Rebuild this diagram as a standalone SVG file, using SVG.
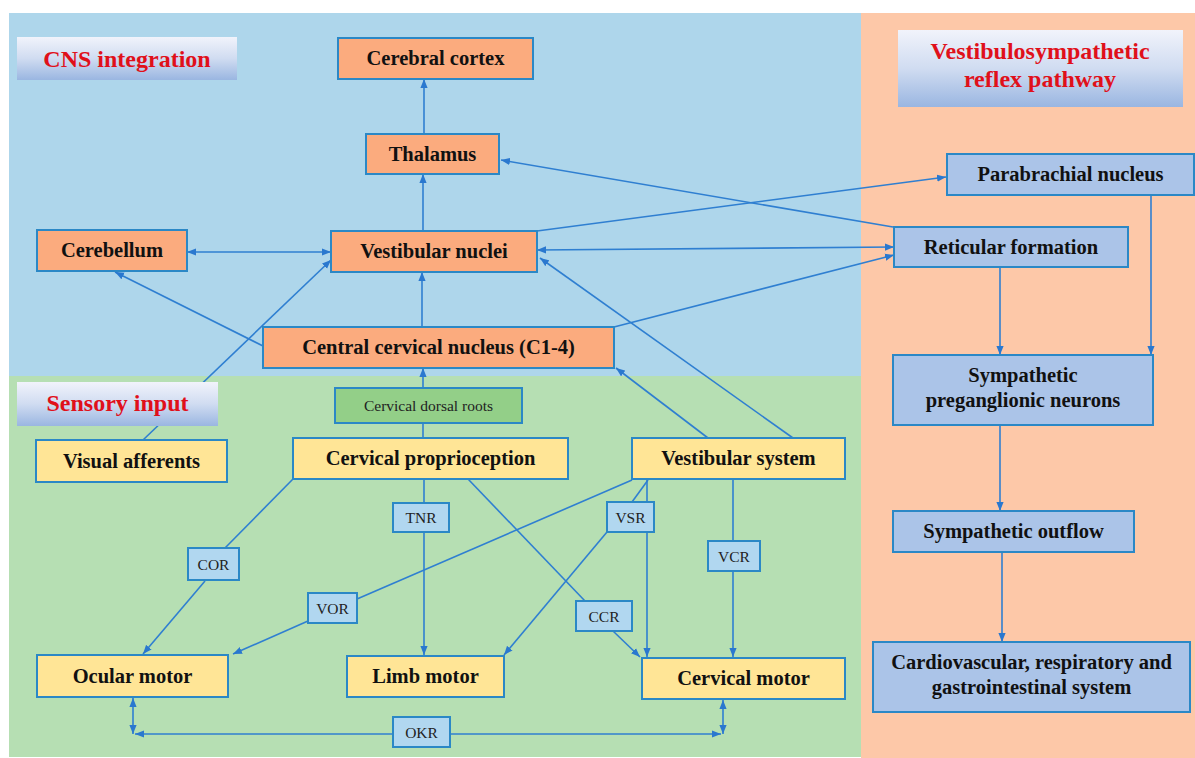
<svg xmlns="http://www.w3.org/2000/svg" width="1195" height="758" viewBox="0 0 1195 758">
<defs>
<linearGradient id="lblGrad" x1="0" y1="0" x2="0" y2="1">
<stop offset="0" stop-color="#f1f3fb"/>
<stop offset="0.5" stop-color="#d0dcf1"/>
<stop offset="1" stop-color="#9ab6e1"/>
</linearGradient>
<marker id="ah" viewBox="0 0 10 8" refX="10" refY="4" markerWidth="9" markerHeight="8" markerUnits="userSpaceOnUse" orient="auto-start-reverse">
<path d="M0,0 L10,4 L0,8 z" fill="#2a78cf"/>
</marker>
<style>
.conn line, .conn path { stroke:#2f7fd1; stroke-width:1.6; fill:none; }
.arr { marker-end:url(#ah); }
.both { marker-start:url(#ah); marker-end:url(#ah); }
.nO { fill:#fbab7e; stroke:#2b88c6; stroke-width:2; }
.nY { fill:#ffe596; stroke:#2b88c6; stroke-width:2; }
.nB { fill:#abc4e8; stroke:#2b88c6; stroke-width:2; }
.nS { fill:#b1d7f0; stroke:#2b88c6; stroke-width:2; }
.nG { fill:#93cf88; stroke:#2b88c6; stroke-width:2; }
.t { font-family:"Liberation Serif","Times New Roman",serif; font-weight:bold; font-size:20.5px; fill:#111; text-anchor:middle; }
.ts { font-family:"Liberation Serif","Times New Roman",serif; font-size:15.5px; fill:#222; text-anchor:middle; }
.tl { font-family:"Liberation Serif","Times New Roman",serif; font-weight:bold; font-size:24px; fill:#e0101a; text-anchor:middle; }
</style>
</defs>
<rect x="0" y="0" width="1195" height="758" fill="#ffffff"/>
<!-- panels -->
<rect x="9" y="13" width="852" height="363" fill="#aed6eb"/>
<rect x="9" y="376" width="852" height="381" fill="#b6dfb3"/>
<rect x="861" y="13" width="334" height="745" fill="#fdc8a8"/>

<g id="connectors" class="conn">
<line class="arr" x1="424" y1="134" x2="424" y2="79"/>
<line class="arr" x1="423" y1="231" x2="423" y2="174"/>
<line class="both" x1="187" y1="252" x2="331" y2="252"/>
<line class="arr" x1="422" y1="327" x2="422" y2="272"/>
<line class="arr" x1="263" y1="346" x2="115" y2="272"/>
<line class="arr" x1="143" y1="440" x2="331" y2="260"/>
<line class="arr" x1="893" y1="227" x2="501" y2="160"/>
<line class="arr" x1="537" y1="231" x2="946" y2="177"/>
<line class="both" x1="537" y1="250" x2="894" y2="247"/>
<line class="arr" x1="614" y1="327" x2="894" y2="255"/>
<line class="arr" x1="423" y1="438" x2="423" y2="368"/>
<line class="arr" x1="708" y1="438" x2="616" y2="368"/>
<line class="arr" x1="793" y1="438" x2="540" y2="258"/>
<line class="arr" x1="1000" y1="267" x2="1000" y2="355"/>
<line class="arr" x1="1151" y1="195" x2="1151" y2="355"/>
<line class="arr" x1="1000" y1="425" x2="1000" y2="511"/>
<line class="arr" x1="1002" y1="552" x2="1002" y2="642"/>
<line x1="293" y1="479" x2="225" y2="548"/>
<line class="arr" x1="205" y1="581" x2="143" y2="654"/>
<line class="arr" x1="424" y1="479" x2="424" y2="655"/>
<line x1="468" y1="479" x2="585" y2="601"/>
<line class="arr" x1="613" y1="631" x2="640" y2="657"/>
<line x1="632" y1="480" x2="357" y2="599"/>
<line class="arr" x1="308" y1="621" x2="233" y2="654"/>
<line x1="648" y1="480" x2="632" y2="502"/>
<line class="arr" x1="607" y1="532" x2="504" y2="655"/>
<line class="arr" x1="647" y1="480" x2="647" y2="657"/>
<line class="arr" x1="733" y1="479" x2="733" y2="657"/>
<line class="both" x1="133" y1="698" x2="133" y2="734"/>
<line class="both" x1="723" y1="700" x2="723" y2="734"/>
<line class="arr" x1="393" y1="734" x2="135" y2="734"/>
<line class="arr" x1="450" y1="734" x2="721" y2="734"/>
</g>

<g id="label-cns"><rect x="17" y="37" width="220" height="43" fill="url(#lblGrad)"/><text class="tl" x="127" y="67">CNS integration</text></g>
<g id="label-sensory"><rect x="17" y="382" width="201" height="44" fill="url(#lblGrad)"/><text class="tl" x="117.5" y="411">Sensory input</text></g>
<g id="label-vsr"><rect x="898" y="30" width="285" height="77" fill="url(#lblGrad)"/><text class="tl" x="1040" y="59">Vestibulosympathetic</text><text class="tl" x="1040" y="87">reflex pathway</text></g>

<g id="cortex"><rect class="nO" x="338" y="38" width="195" height="41"/><text class="t" x="435.5" y="65">Cerebral cortex</text></g>
<g id="thalamus"><rect class="nO" x="366" y="134" width="133" height="40"/><text class="t" x="432.5" y="161">Thalamus</text></g>
<g id="cerebellum"><rect class="nO" x="37" y="230" width="150" height="41"/><text class="t" x="112" y="257">Cerebellum</text></g>
<g id="vestibular-nuclei"><rect class="nO" x="331" y="231" width="206" height="41"/><text class="t" x="434" y="258">Vestibular nuclei</text></g>
<g id="ccn"><rect class="nO" x="263" y="327" width="351" height="41"/><text class="t" x="438.5" y="354">Central cervical nucleus (C1-4)</text></g>
<g id="visual"><rect class="nY" x="36" y="440" width="191" height="42"/><text class="t" x="131.5" y="468">Visual afferents</text></g>
<g id="dorsal-roots"><rect class="nG" x="335" y="388" width="187" height="35"/><text class="ts" x="428.5" y="411">Cervical dorsal roots</text></g>
<g id="cerv-prop"><rect class="nY" x="293" y="438" width="275" height="41"/><text class="t" x="430.5" y="465">Cervical proprioception</text></g>
<g id="vest-system"><rect class="nY" x="632" y="438" width="213" height="41"/><text class="t" x="738.5" y="465">Vestibular system</text></g>
<g id="ocular"><rect class="nY" x="37" y="655" width="191" height="42"/><text class="t" x="132.5" y="683">Ocular motor</text></g>
<g id="limb"><rect class="nY" x="347" y="656" width="157" height="41"/><text class="t" x="425.5" y="683">Limb motor</text></g>
<g id="cerv-motor"><rect class="nY" x="642" y="658" width="203" height="41"/><text class="t" x="743.5" y="685">Cervical motor</text></g>
<g id="parabrachial"><rect class="nB" x="947" y="154" width="247" height="41"/><text class="t" x="1070.5" y="181">Parabrachial nucleus</text></g>
<g id="reticular"><rect class="nB" x="894" y="227" width="234" height="40"/><text class="t" x="1011" y="254">Reticular formation</text></g>
<g id="spn"><rect class="nB" x="893" y="355" width="260" height="70"/><text class="t" x="1023" y="382">Sympathetic</text><text class="t" x="1023" y="407">preganglionic neurons</text></g>
<g id="outflow"><rect class="nB" x="893" y="511" width="241" height="41"/><text class="t" x="1013.5" y="538">Sympathetic outflow</text></g>
<g id="cardio"><rect class="nB" x="873" y="642" width="317" height="70"/><text class="t" x="1031.5" y="669">Cardiovascular, respiratory and</text><text class="t" x="1031.5" y="694">gastrointestinal system</text></g>

<g id="COR"><rect class="nS" x="188" y="548" width="51" height="32"/><text class="ts" x="213.5" y="569.5">COR</text></g>
<g id="TNR"><rect class="nS" x="393" y="503" width="56" height="29"/><text class="ts" x="421" y="523">TNR</text></g>
<g id="VSR"><rect class="nS" x="607" y="502" width="47" height="30"/><text class="ts" x="630.5" y="522.5">VSR</text></g>
<g id="VCR"><rect class="nS" x="708" y="541" width="52" height="30"/><text class="ts" x="734" y="561.5">VCR</text></g>
<g id="VOR"><rect class="nS" x="308" y="593" width="49" height="30"/><text class="ts" x="332.5" y="613.5">VOR</text></g>
<g id="CCR"><rect class="nS" x="576" y="601" width="56" height="30"/><text class="ts" x="604" y="621.5">CCR</text></g>
<g id="OKR"><rect class="nS" x="393" y="717" width="57" height="30"/><text class="ts" x="421.5" y="737.5">OKR</text></g>
</svg>
